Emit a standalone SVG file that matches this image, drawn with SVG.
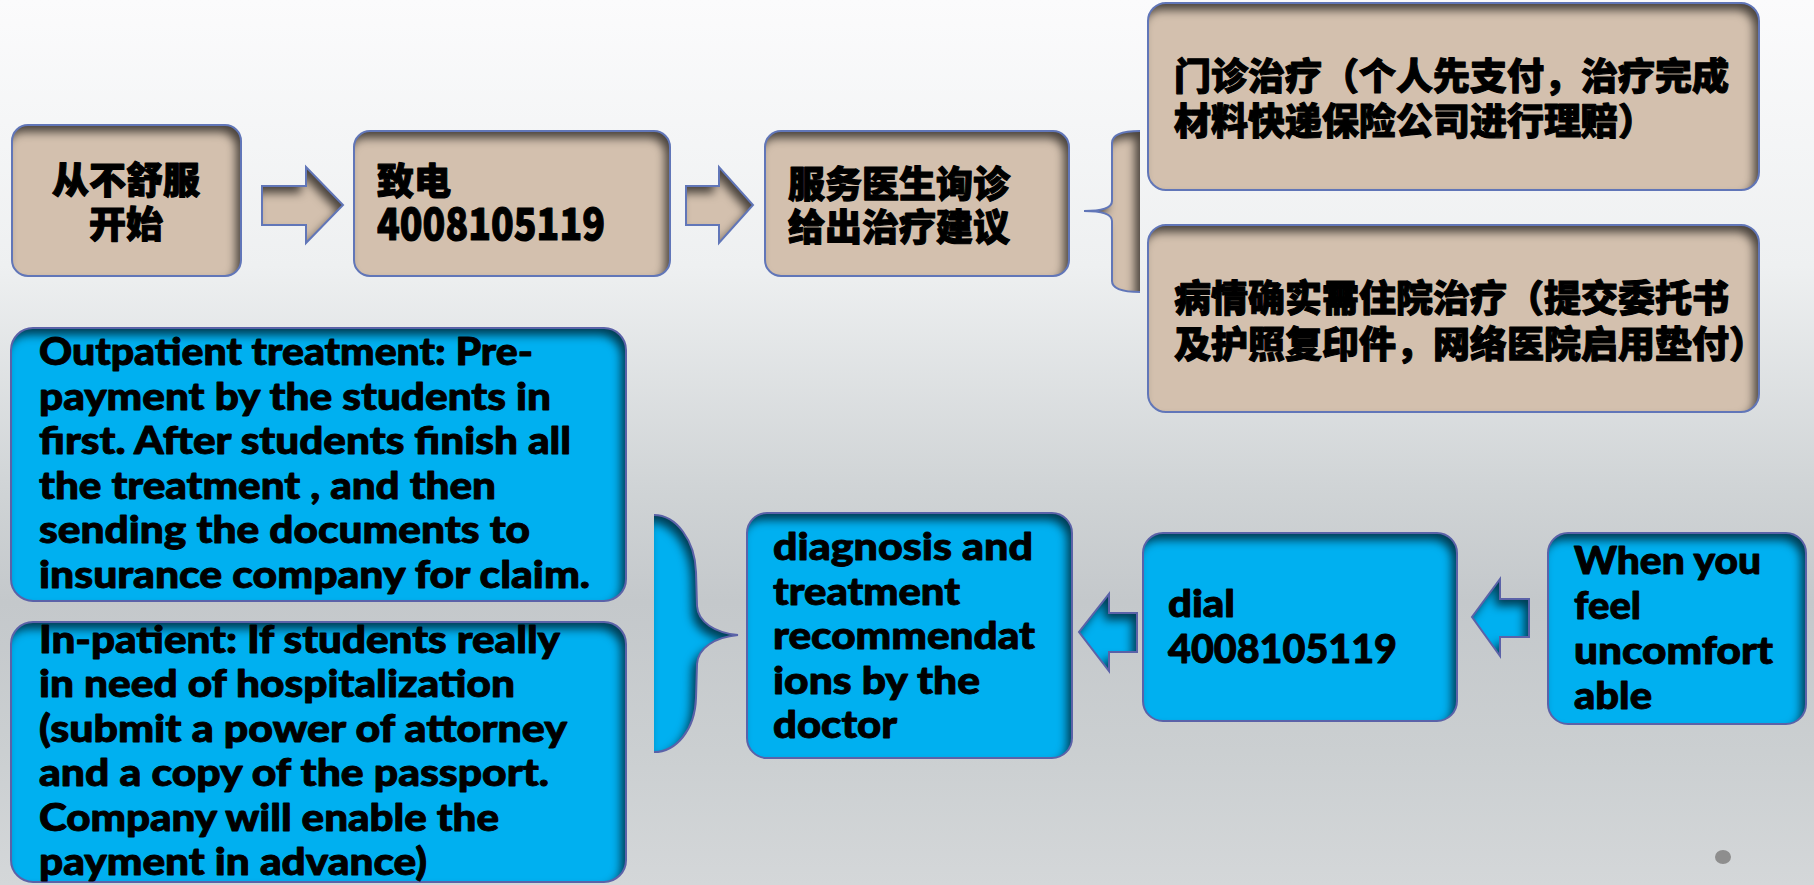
<svg xmlns="http://www.w3.org/2000/svg" width="1814" height="885" viewBox="0 0 1814 885">
<defs>
<linearGradient id="bg" x1="0" y1="0" x2="0" y2="1">
<stop offset="0" stop-color="#fbfbfc"/>
<stop offset="0.3" stop-color="#eef0f1"/>
<stop offset="0.55" stop-color="#d0d4d6"/>
<stop offset="0.68" stop-color="#c4c8cb"/>
<stop offset="0.85" stop-color="#cbcfd1"/>
<stop offset="1" stop-color="#d4d7d9"/>
</linearGradient>
<filter id="inset" x="-10%" y="-10%" width="120%" height="120%" color-interpolation-filters="sRGB">
<feOffset in="SourceAlpha" dx="-5" dy="7" result="o"/>
<feGaussianBlur in="o" stdDeviation="5" result="b"/>
<feComposite in="SourceAlpha" in2="b" operator="out" result="e"/>
<feFlood flood-color="#000" flood-opacity="0.65" result="c"/>
<feComposite in="c" in2="e" operator="in" result="s"/>
<feMerge><feMergeNode in="SourceGraphic"/><feMergeNode in="s"/></feMerge>
</filter>
<style>
.tan{fill:#d3c0ae;filter:url(#inset)}
.blue{fill:#00b0f0;filter:url(#inset)}
.edge{fill:none;stroke:#6176b8;stroke-width:2}
.bedge{fill:none;stroke:#5b62a8;stroke-width:2}
.cn{font-family:"Noto Sans CJK SC","Noto Sans CJK TC",sans-serif;font-weight:900;font-size:37px;fill:#000;stroke:#000;stroke-width:1.1px;stroke-linejoin:round}
.en{font-family:Lato,"Liberation Sans",sans-serif;font-weight:900;font-size:37px;fill:#000;stroke:#000;stroke-width:0.9px;stroke-linejoin:round}
</style>
</defs>
<rect x="0" y="0" width="1814" height="885" fill="url(#bg)"/>

<g id="connectors">
<g id="arrow-1">
<path class="tan" d="M262,186 L306,186 L306,167 L343,205 L306,243 L306,225 L262,225 Z"/>
<path class="edge" d="M262,186 L306,186 L306,167 L343,205 L306,243 L306,225 L262,225 Z"/>
</g>
<g id="arrow-2">
<path class="tan" d="M686,186 L719,186 L719,167 L753,205 L719,243 L719,225 L686,225 Z"/>
<path class="edge" d="M686,186 L719,186 L719,167 L753,205 L719,243 L719,225 L686,225 Z"/>
</g>
<g id="brace-top">
<path class="tan" d="M1140,131 Q1112,131 1112,143 L1112,201 Q1112,211 1084,211 Q1112,211 1112,221 L1112,281 Q1112,292 1140,292 Z"/>
<path class="edge" d="M1140,131 Q1112,131 1112,143 L1112,201 Q1112,211 1084,211 Q1112,211 1112,221 L1112,281 Q1112,292 1140,292"/>
</g>
<g id="arrow-3">
<path class="blue" d="M1529,599 L1500,599 L1500,579 L1472,617 L1500,656 L1500,637 L1529,637 Z"/>
<path class="bedge" d="M1529,599 L1500,599 L1500,579 L1472,617 L1500,656 L1500,637 L1529,637 Z"/>
</g>
<g id="arrow-4">
<path class="blue" d="M1137,613 L1109,613 L1109,594 L1079,632 L1109,671 L1109,652 L1137,652 Z"/>
<path class="bedge" d="M1137,613 L1109,613 L1109,594 L1079,632 L1109,671 L1109,652 L1137,652 Z"/>
</g>
<g id="brace-bottom">
<path class="blue" d="M654,515 C676,515 695,540 696,572 L697,606 C698,622 715,633 738,635 C715,637 698,648 697,664 L696,698 C695,730 676,752 654,752 Z"/>
<path class="bedge" d="M654,515 C676,515 695,540 696,572 L697,606 C698,622 715,633 738,635 C715,637 698,648 697,664 L696,698 C695,730 676,752 654,752"/>
</g>
</g>

<g id="node-start-cn">
<rect class="tan" x="12" y="125" width="229" height="151" rx="16"/>
<rect class="edge" x="12" y="125" width="229" height="151" rx="16"/>
<text class="cn" x="126" y="194" text-anchor="middle">从不舒服</text>
<text class="cn" x="126" y="238" text-anchor="middle">开始</text>
</g>

<g id="node-call-cn">
<rect class="tan" x="354" y="131" width="316" height="145" rx="16"/>
<rect class="edge" x="354" y="131" width="316" height="145" rx="16"/>
<text class="cn" x="377" y="195">致电</text>
<text class="cn" x="377" y="240" style="font-size:44px" textLength="228" lengthAdjust="spacingAndGlyphs">4008105119</text>
</g>

<g id="node-doctor-cn">
<rect class="tan" x="765" y="131" width="304" height="145" rx="16"/>
<rect class="edge" x="765" y="131" width="304" height="145" rx="16"/>
<text class="cn" x="788" y="198">服务医生询诊</text>
<text class="cn" x="788" y="241">给出治疗建议</text>
</g>

<g id="node-outpatient-cn">
<rect class="tan" x="1148" y="3" width="611" height="187" rx="18"/>
<rect class="edge" x="1148" y="3" width="611" height="187" rx="18"/>
<text class="cn" x="1174" y="90">门诊治疗（个人先支付，治疗完成</text>
<text class="cn" x="1174" y="135">材料快递保险公司进行理赔）</text>
</g>

<g id="node-inpatient-cn">
<rect class="tan" x="1148" y="225" width="611" height="187" rx="18"/>
<rect class="edge" x="1148" y="225" width="611" height="187" rx="18"/>
<text class="cn" x="1174" y="312">病情确实需住院治疗（提交委托书</text>
<text class="cn" x="1174" y="358">及护照复印件，网络医院启用垫付）</text>
</g>

<g id="node-outpatient-en">
<rect class="blue" x="11" y="328" width="615" height="273" rx="22"/>
<rect class="bedge" x="11" y="328" width="615" height="273" rx="22"/>
<text class="en" x="39" y="365" textLength="494" lengthAdjust="spacingAndGlyphs">Outpatient treatment: Pre-</text>
<text class="en" x="39" y="410" textLength="512" lengthAdjust="spacingAndGlyphs">payment by the students in</text>
<text class="en" x="39" y="454" textLength="532" lengthAdjust="spacingAndGlyphs">first. After students finish all</text>
<text class="en" x="39" y="499" textLength="457" lengthAdjust="spacingAndGlyphs">the treatment , and then</text>
<text class="en" x="39" y="543" textLength="491" lengthAdjust="spacingAndGlyphs">sending the documents to</text>
<text class="en" x="39" y="588" textLength="551" lengthAdjust="spacingAndGlyphs">insurance company for claim.</text>
</g>

<g id="node-inpatient-en">
<rect class="blue" x="11" y="622" width="615" height="260" rx="22"/>
<rect class="bedge" x="11" y="622" width="615" height="260" rx="22"/>
<text class="en" x="39" y="653" textLength="521" lengthAdjust="spacingAndGlyphs">In-patient: If students really</text>
<text class="en" x="39" y="697" textLength="476" lengthAdjust="spacingAndGlyphs">in need of hospitalization</text>
<text class="en" x="39" y="742" textLength="528" lengthAdjust="spacingAndGlyphs">(submit a power of attorney</text>
<text class="en" x="39" y="786" textLength="510" lengthAdjust="spacingAndGlyphs">and a copy of the passport.</text>
<text class="en" x="39" y="831" textLength="460" lengthAdjust="spacingAndGlyphs">Company will enable the</text>
<text class="en" x="39" y="875" textLength="388" lengthAdjust="spacingAndGlyphs">payment in advance)</text>
</g>

<g id="node-diagnosis-en">
<rect class="blue" x="747" y="513" width="325" height="245" rx="20"/>
<rect class="bedge" x="747" y="513" width="325" height="245" rx="20"/>
<text class="en" x="773" y="560" textLength="260" lengthAdjust="spacingAndGlyphs">diagnosis and</text>
<text class="en" x="773" y="605" textLength="187" lengthAdjust="spacingAndGlyphs">treatment</text>
<text class="en" x="773" y="649" textLength="262" lengthAdjust="spacingAndGlyphs">recommendat</text>
<text class="en" x="773" y="694" textLength="207" lengthAdjust="spacingAndGlyphs">ions by the</text>
<text class="en" x="773" y="738" textLength="124" lengthAdjust="spacingAndGlyphs">doctor</text>
</g>

<g id="node-dial-en">
<rect class="blue" x="1143" y="533" width="314" height="188" rx="20"/>
<rect class="bedge" x="1143" y="533" width="314" height="188" rx="20"/>
<text class="en" x="1168" y="617" textLength="67" lengthAdjust="spacingAndGlyphs">dial</text>
<text class="en" x="1168" y="663" style="font-size:39px" textLength="229" lengthAdjust="spacingAndGlyphs">4008105119</text>
</g>

<g id="node-start-en">
<rect class="blue" x="1548" y="533" width="258" height="191" rx="20"/>
<rect class="bedge" x="1548" y="533" width="258" height="191" rx="20"/>
<text class="en" x="1574" y="574" textLength="187" lengthAdjust="spacingAndGlyphs">When you</text>
<text class="en" x="1574" y="619" textLength="67" lengthAdjust="spacingAndGlyphs">feel</text>
<text class="en" x="1574" y="664" textLength="199" lengthAdjust="spacingAndGlyphs">uncomfort</text>
<text class="en" x="1574" y="709" textLength="78" lengthAdjust="spacingAndGlyphs">able</text>
</g>

<ellipse cx="1723" cy="857" rx="8" ry="7" fill="#8e8e8e"/>
</svg>
